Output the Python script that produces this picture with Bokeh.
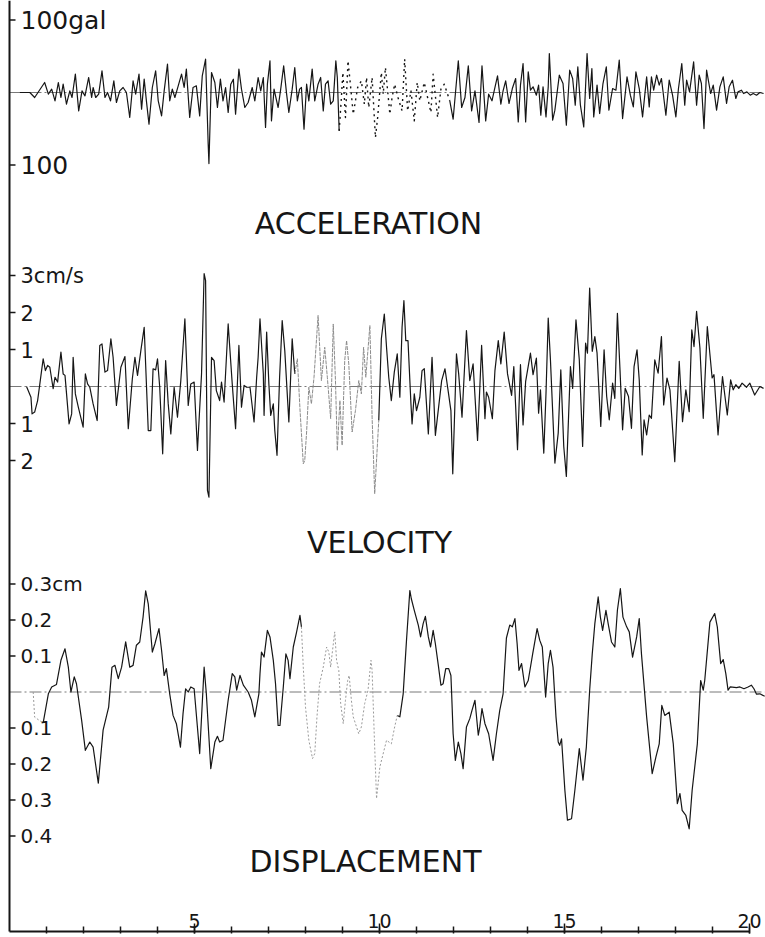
from bokeh.plotting import figure
from bokeh.models import Range1d
from bokeh.core.properties import value
from bokeh.embed import file_html
from bokeh.resources import INLINE

# ---- strong-motion record: time (s) vs. acceleration (gal) ----
acc_t = [0.28, 0.55, 0.68, 0.86, 0.95, 1.05, 1.14, 1.23, 1.32, 1.39, 1.45,
         1.54, 1.63, 1.69, 1.78, 1.87, 1.96, 2.04, 2.14, 2.22, 2.26,
         2.33, 2.41, 2.50, 2.58, 2.65, 2.73, 2.82, 2.89, 2.98, 3.07,
         3.16, 3.25, 3.34, 3.41, 3.50, 3.57, 3.64, 3.70, 3.77, 3.86,
         3.95, 4.02, 4.11, 4.18, 4.27, 4.33, 4.40, 4.47, 4.56, 4.65,
         4.72, 4.78, 4.87, 4.96, 5.05, 5.14, 5.21, 5.30, 5.37, 5.39,
         5.46, 5.55, 5.62, 5.70, 5.77, 5.84, 5.91, 5.98, 6.05, 6.11,
         6.20, 6.27, 6.36, 6.45, 6.56, 6.63,
         6.72, 6.79, 6.86, 6.92, 6.97, 7.04, 7.08, 7.15, 7.22, 7.26,
         7.33, 7.41, 7.49, 7.55, 7.64, 7.71, 7.78, 7.84, 7.89, 7.96,
         8.03, 8.09, 8.18, 8.25, 8.34, 8.41, 8.48, 8.54, 8.61, 8.68,
         8.75, 8.82, 8.86, 8.91, 8.97, 9.01, 9.08, 9.15, 9.23, 9.29,
         9.41, 9.51, 9.59, 9.65, 9.71, 9.80, 9.89, 9.95, 10.05, 10.10,
         10.16, 10.28, 10.34, 10.41, 10.50, 10.61, 10.68, 10.76, 10.85, 10.94,
         11.02, 11.09, 11.21, 11.30, 11.39, 11.45, 11.57, 11.66, 11.75, 11.81,
         11.90, 11.99, 12.13, 12.22, 12.31, 12.40, 12.49, 12.58, 12.69, 12.77,
         12.87, 12.95, 13.04, 13.11, 13.19, 13.28, 13.34, 13.41,
         13.50, 13.59, 13.68, 13.75, 13.81, 13.88, 13.95, 14.02, 14.08, 14.15,
         14.24, 14.30, 14.36, 14.42, 14.50, 14.56, 14.59, 14.68, 14.74, 14.86,
         14.96, 15.05, 15.14, 15.22, 15.29, 15.36, 15.43, 15.52, 15.61, 15.68,
         15.74, 15.79, 15.88, 15.95, 16.04, 16.13, 16.20, 16.30, 16.39, 16.48,
         16.57, 16.69, 16.78, 16.86, 16.93, 17.02, 17.11, 17.22, 17.29, 17.35,
         17.41, 17.49, 17.56, 17.62, 17.74, 17.83, 17.92, 18.01, 18.08, 18.17,
         18.25, 18.30, 18.38, 18.49, 18.57, 18.64, 18.70, 18.77, 18.84, 18.95,
         19.02, 19.11, 19.20, 19.29, 19.38, 19.45, 19.54, 19.63, 19.69, 19.78,
         19.84, 19.93, 20.02, 20.10, 20.19, 20.28, 20.38]
acc_gal = [0.0, 0.0, -6.9, 6.9, 13.8, -2.3, 4.6, -11.5, 13.8, -6.9, 11.5,
           -16.1, 2.3, -6.9, 25.3, -25.3, 2.3, -4.6, 20.7, -6.9, 6.9,
           -6.9, -2.3, 29.9, -6.9, 0.0, -11.5, 16.1, -13.8, 2.3, 6.9,
           0.0, -34.5, 16.1, -2.3, 25.3, -23.0, 18.4, -11.5, -43.7, 6.9,
           29.9, -11.5, -32.2, 2.3, 39.1, -11.5, 4.6, -6.9, 9.2, 25.3,
           6.9, 32.2, -34.5, 6.9, 9.2, -32.2, 23.0, 46.0, -71.3, -98.0,
           27.6, 13.8, -20.7, 18.4, -11.5, 6.9, -27.6, 11.5, 18.4, -29.9,
           32.2, 4.6, -20.7, -13.8, 6.9, -11.5,
           20.7, 2.3, 20.7, -48.3, 11.5, 43.7, -39.1, 4.6, -11.5, -20.7,
           4.6, 36.8, -2.3, -27.6, 4.6, 34.5, -11.5, 4.6, 6.9, -50.6,
           11.5, -11.5, 32.2, -11.5, 11.5, 20.7, -25.3, 11.5, 16.1, -16.1,
           -11.5, 43.7, 20.7, -52.9, -6.9, 27.6, -34.5, 43.7, 2.3, -29.9,
           6.9, 16.1, -16.1, 20.7, -20.7, 20.7, -62.1, -34.5, 27.6, -2.3,
           34.5, -29.9, -6.9, 11.5, -6.9, -25.3, 46.0, -25.3, 2.3, -39.1,
           13.8, -11.5, 13.8, -6.9, -27.6, 25.3, -34.5, 4.6, 11.5, 2.3,
           -11.5, -36.8, 43.7, -20.7, -6.9, 36.8, -25.3, 2.3, -41.4, 36.8,
           -39.1, -2.3, -11.5, 4.6, 23.0, -16.1, 2.3, 16.1,
           -15.2, 5.5, 19.3, -40.5, 10.1, 40.0, -40.5, 28.5, 3.2, 7.8,
           -3.7, 10.1, -31.3, 7.8, -33.6, 7.8, 53.8, -38.2, -24.4, 23.9,
           12.4, -45.1, 30.8, 19.3, -17.5, 35.4, -17.5, -47.4, 53.8, -8.3,
           33.1, -33.6, 10.1, -29.0, 12.4, 35.4, -24.4, 5.5, 3.2, 44.6,
           -35.9, 21.6, -3.7, -19.8, 28.5, 5.5, -33.6, 21.6, -19.8, 21.6,
           3.2, 23.9, 10.1, 19.3, -31.3, 17.0, -3.7, -33.6, 5.5, 40.0,
           -17.5, 17.0, 0.9, 42.3, -17.5, 23.9, 12.4, -49.7, 30.8, -1.4,
           10.1, -24.4, 7.8, 21.6, -15.2, 7.8, 17.0, -8.3, 0.9, 3.2,
           -1.4, 0.9, -3.7, -1.4, -3.7, 0.0, -1.4]

# ---- velocity (cm/s) ----
vel_t = [0.46, 0.58, 0.61, 0.68, 0.76, 0.82, 0.91, 0.97, 1.03, 1.09,
         1.18, 1.23, 1.30, 1.39, 1.45, 1.50, 1.61, 1.68, 1.72, 1.78,
         1.86, 1.99, 2.05, 2.11, 2.17, 2.26, 2.37, 2.44, 2.50, 2.58,
         2.65, 2.74, 2.80, 2.89, 3.01, 3.12, 3.21, 3.32, 3.39, 3.46,
         3.55, 3.64, 3.75, 3.82, 3.88, 3.95, 4.00, 4.06, 4.14, 4.22,
         4.29, 4.36, 4.45, 4.54, 4.63, 4.74, 4.83, 4.90, 4.99, 5.08,
         5.19, 5.26, 5.30, 5.35, 5.39, 5.46, 5.53, 5.59, 5.68, 5.73,
         5.80, 5.91, 6.02, 6.11, 6.20, 6.27, 6.34, 6.41, 6.50,
         6.61, 6.68, 6.72, 6.77, 6.86, 6.88, 6.95, 7.01, 7.06, 7.13,
         7.17, 7.23, 7.30, 7.37, 7.44, 7.55, 7.64, 7.71, 7.78, 7.85,
         7.94, 7.98, 8.03, 8.09, 8.16, 8.23, 8.34, 8.43, 8.52, 8.59,
         8.68, 8.75, 8.81, 8.86, 8.93, 8.99, 9.06, 9.11, 9.17, 9.26,
         9.35, 9.44, 9.51, 9.57, 9.63, 9.74, 9.80, 9.87, 9.98, 10.05,
         10.13, 10.19, 10.25, 10.32, 10.40, 10.48, 10.55, 10.61, 10.66, 10.71,
         10.77, 10.85, 10.88, 10.94, 11.00, 11.09, 11.15, 11.21, 11.32, 11.42,
         11.51, 11.68, 11.77, 11.86, 11.93, 11.98, 12.08, 12.14, 12.23, 12.35,
         12.44, 12.53, 12.65, 12.76, 12.85, 12.89, 12.95, 13.05, 13.12, 13.21,
         13.28, 13.37, 13.46, 13.57,
         13.63, 13.68, 13.73, 13.81, 13.88, 13.95, 14.08, 14.15, 14.24, 14.30,
         14.35, 14.44, 14.50, 14.56, 14.62, 14.74, 14.83, 14.90, 14.98, 15.05,
         15.11, 15.16, 15.22, 15.31, 15.40, 15.49, 15.57, 15.62, 15.68, 15.75,
         15.82, 15.88, 15.98, 16.07, 16.14, 16.21, 16.30, 16.36, 16.43, 16.50,
         16.57, 16.64, 16.73, 16.81, 16.88, 16.96, 17.02, 17.10, 17.15, 17.22,
         17.29, 17.35, 17.44, 17.53, 17.62, 17.68, 17.77, 17.85, 17.98, 18.10,
         18.19, 18.28, 18.37, 18.44, 18.50, 18.57, 18.66, 18.75, 18.86, 18.99,
         19.04, 19.15, 19.27, 19.40, 19.49, 19.56, 19.63, 19.71, 19.80, 19.92,
         20.01, 20.14, 20.28, 20.38]
vel_cms = [0.0, -0.29, -0.74, -0.69, -0.38, 0.07, 0.75, 0.43, 0.57, 0.52,
           -0.06, 0.25, 0.12, 0.93, 0.34, 0.30, -1.01, -0.74, 0.79, -0.20,
           -0.56, -1.10, 0.34, 0.07, -0.02, -0.47, -0.92, 1.11, 1.15, 0.39,
           0.43, 1.29, 0.79, -0.51, 0.52, 0.81, -1.14, 0.21, 0.79, 0.30,
           0.97, 1.60, -1.19, -1.19, 0.48, 0.45, 0.75, -0.02, -1.82, 0.70,
           -0.47, -1.28, -0.02, -0.83, 0.16, 1.83, -0.51, 0.07, 0.12, -1.73,
           0.34, 3.05, 2.86, -2.81, -2.99, 0.79, 0.70, -0.11, -0.38, 0.12,
           -0.42, 1.69, 0.07, -1.14, 1.11, -0.56, 0.03, -0.02, -0.02,
           -0.96, 0.25, 0.79, 1.83, 0.34, -0.78, 1.47, 0.07, -0.78, -0.47,
           -1.19, -1.86, 0.25, 1.78, 0.97, -0.96, 1.29, 0.34, 0.75, -0.60,
           -2.09, -2.00, -1.23, -0.02, -0.47, 0.25, 1.92, 0.16, 1.06, 0.25,
           -0.87, 1.69, 0.16, -1.73, -0.38, -1.59, 0.70, 1.24, 0.61, -1.23,
           -0.65, 0.16, -0.20, 1.06, 0.25, 1.65, -0.83, -2.90, -0.92, 1.29,
           1.96, 1.06, 0.25, -0.38, 0.39, 0.88, -0.29, 1.60, 2.32, 1.24,
           1.24, -0.47, -1.01, -0.20, -0.65, -0.29, 0.43, 0.48, -1.28, 0.79,
           -1.32, 0.16, 0.48, -0.15, -0.65, -2.36, 0.88, 0.34, -0.83, 1.51,
           0.16, 0.61, -1.46, 1.11, -0.87, -0.15, -0.29, -0.87, 0.43, 1.24,
           0.61, 1.47, 0.34, -0.24,
           0.54, -0.54, -1.71, 0.59, -1.04, 0.14, 0.90, 0.32, 0.77, -0.72,
           -0.09, -1.80, -0.18, 1.85, 0.72, -2.07, -1.26, 0.45, -1.62, -2.43,
           -0.81, 0.54, -0.05, 1.80, 0.72, -1.62, 1.17, 0.90, 2.66, 0.95,
           1.35, 0.90, -1.08, 0.99, -0.27, -0.90, 0.09, -0.32, 1.98, 0.45,
           -1.17, -0.05, -0.27, -1.13, 0.54, 0.99, 0.18, -1.85, -0.90, -1.31,
           -0.77, -0.86, 0.72, 0.36, 1.35, -0.50, 0.23, -0.09, -2.03, 0.68,
           -0.95, -0.09, -0.68, 1.53, 1.08, 2.03, 1.04, -0.86, 1.62, 0.23,
           0.32, -1.31, 0.27, -0.77, 0.18, -0.09, 0.05, -0.05, 0.09, -0.02,
           0.09, -0.23, 0.0, -0.05]

# ---- displacement (cm) ----
disp_t = [0.64, 0.68, 0.91, 1.05, 1.14, 1.27, 1.39, 1.50, 1.59, 1.66,
          1.75, 1.81, 1.95, 2.05, 2.17, 2.26, 2.40, 2.53, 2.68, 2.77,
          2.85, 2.94, 3.03, 3.14, 3.25, 3.34, 3.43, 3.52, 3.61, 3.68,
          3.75, 3.86, 3.93, 4.04, 4.11, 4.18, 4.24, 4.33, 4.42, 4.51,
          4.62, 4.69, 4.76, 4.83, 4.90, 4.99, 5.14, 5.26, 5.32, 5.44,
          5.55, 5.62, 5.68, 5.77, 5.91, 6.02, 6.09, 6.14, 6.23, 6.32,
          6.45, 6.54, 6.63, 6.74, 6.77, 6.81, 6.88, 6.97, 7.04, 7.13,
          7.19, 7.26, 7.31, 7.40, 7.47, 7.53, 7.58, 7.67, 7.76, 7.85,
          7.89, 7.94, 8.00, 8.09, 8.19, 8.25, 8.31, 8.38, 8.48, 8.57,
          8.63, 8.68, 8.72, 8.79, 8.84, 8.90, 8.95, 9.02, 9.08, 9.14,
          9.18, 9.24, 9.29, 9.44, 9.51, 9.60, 9.69, 9.77, 9.80, 9.86,
          9.92, 10.01, 10.19, 10.32, 10.41, 10.48, 10.55, 10.64, 10.73, 10.82,
          10.86, 10.94, 11.05, 11.11, 11.18, 11.24, 11.32, 11.38, 11.45, 11.51,
          11.59, 11.66, 11.72, 11.79, 11.87, 11.93, 11.95, 11.99, 12.05, 12.13,
          12.20, 12.26, 12.35, 12.44, 12.50, 12.58, 12.67, 12.71, 12.77, 12.85,
          12.95, 13.07, 13.16, 13.25, 13.34, 13.43, 13.52, 13.59, 13.66, 13.72,
          13.77, 13.84, 13.93, 14.02, 14.14, 14.26, 14.33, 14.40, 14.49, 14.56,
          14.62, 14.69, 14.77, 14.83, 14.87, 14.92, 15.01, 15.08, 15.19, 15.28,
          15.40, 15.50, 15.59, 15.68, 15.75, 15.82, 15.91, 15.97, 16.03, 16.12,
          16.18, 16.27, 16.36, 16.43, 16.51, 16.58, 16.68, 16.75, 16.84, 16.95,
          17.02, 17.08, 17.22, 17.37, 17.47, 17.56, 17.63, 17.71, 17.83, 17.94,
          18.05, 18.12, 18.18, 18.28, 18.37, 18.45, 18.59, 18.68, 18.75, 18.79,
          18.93, 19.06, 19.13, 19.22, 19.29, 19.36, 19.42, 19.48, 19.65, 19.74,
          19.85, 19.96, 20.05, 20.12, 20.19, 20.28, 20.41]
disp_cm = [0.0, -0.07, -0.086, -0.005, 0.014, 0.021, 0.088, 0.12, 0.069, 0.0,
           0.042, 0.023, -0.079, -0.162, -0.139, -0.153, -0.253, -0.106, -0.042, 0.069,
           0.074, 0.037, 0.069, 0.139, 0.069, 0.074, 0.130, 0.139, 0.208, 0.281,
           0.245, 0.111, 0.134, 0.176, 0.116, 0.046, 0.065, -0.005, -0.065, -0.088,
           -0.153, -0.06, 0.009, 0.0, 0.014, 0.009, -0.171, 0.069, -0.005, -0.213,
           -0.139, -0.123, -0.139, -0.134, -0.023, 0.051, 0.042, 0.005, 0.046, 0.019,
           0.0, -0.023, -0.069, -0.005, 0.051, 0.111, 0.097, 0.171, 0.153, 0.088,
           0.023, -0.093, -0.093, 0.014, 0.106, 0.088, 0.037, 0.125, 0.167, 0.213,
           0.181, 0.069, -0.042, -0.134, -0.185, -0.171, -0.069, 0.023, 0.069, 0.125,
           0.111, 0.069, 0.106, 0.167, 0.088, 0.060, -0.032, -0.088, -0.023, 0.032,
           0.046, -0.023, -0.069, -0.116, -0.097, -0.032, 0.005, 0.088, 0.060, -0.125,
           -0.296, -0.208, -0.134, -0.144, -0.097, -0.065, -0.069, -0.005, 0.144, 0.282,
           0.259, 0.227, 0.185, 0.153, 0.190, 0.210, 0.153, 0.125, 0.171, 0.134,
           0.074, 0.019, 0.023, 0.065, 0.065, 0.046, -0.005, -0.116, -0.190, -0.139,
           -0.171, -0.213, -0.097, -0.074, -0.051, -0.023, -0.120, -0.097, -0.046, -0.088,
           -0.116, -0.190, -0.116, -0.051, -0.005, 0.150, 0.186, 0.181, 0.204, 0.134,
           0.060, 0.079, 0.014, 0.032, 0.106, 0.176, 0.144, 0.125, -0.014, 0.079,
           0.116, 0.069, -0.069, -0.139, -0.148, -0.130, -0.273, -0.356, -0.352, -0.273,
           -0.157, -0.245, -0.153, 0.005, 0.106, 0.190, 0.264, 0.208, 0.171, 0.227,
           0.190, 0.139, 0.125, 0.227, 0.287, 0.208, 0.181, 0.167, 0.097, 0.153,
           0.204, 0.106, -0.069, -0.227, -0.181, -0.144, -0.037, -0.065, -0.056, -0.144,
           -0.310, -0.282, -0.329, -0.343, -0.380, -0.273, -0.144, 0.032, 0.005, 0.032,
           0.194, 0.218, 0.181, 0.079, 0.090, 0.051, 0.005, 0.014, 0.012, 0.014,
           0.009, 0.014, 0.019, 0.009, -0.006, -0.005, -0.012]

# time windows where the pen trace is faint / broken
acc_faint = [(8.9, 11.9)]
vel_faint = [(7.7, 10.0)]
disp_faint = [(0.6, 0.95), (7.9, 10.5)]

# axis ticks and their labels
time_major = [5, 10, 15, 20]
time_minor = list(range(1, 21))
acc_ticks = [100, -100]
acc_labels = ["100gal", "100"]
vel_ticks = [3, 2, 1, -1, -2]
vel_labels = ["3cm/s", "2", "1", "1", "2"]
disp_ticks = [0.3, 0.2, 0.1, -0.1, -0.2, -0.3, -0.4]
disp_labels = ["0.3cm", "0.2", "0.1", "0.1", "0.2", "0.3", "0.4"]
titles = ["ACCELERATION", "VELOCITY", "DISPLACEMENT"]

# ---- page geometry (pixels) ----
W, H = 765, 937
T0_PX, PX_PER_S = 9, 37.0            # time origin and time scale
ACC_ZERO, ACC_PX = 92, 0.725         # px per gal
VEL_ZERO, VEL_PX = 386, 37.0         # px per cm/s
DISP_ZERO, DISP_PX = 691.5, 360.0    # px per cm
FLOOR = 931                          # time axis line


def panel_range(zero_px, px_per_unit):
    return Range1d((zero_px - H) / px_per_unit, zero_px / px_per_unit)


p = figure(width=W, height=H, output_backend="svg", toolbar_location=None,
           x_range=Range1d(-T0_PX / PX_PER_S, (W - T0_PX) / PX_PER_S),
           y_range=panel_range(ACC_ZERO, ACC_PX),
           x_axis_location=None, y_axis_location=None,
           min_border=0, outline_line_color=None,
           background_fill_color="white", border_fill_color="white")
p.grid.visible = False
p.extra_x_ranges = {"px": Range1d(0, W)}
p.extra_y_ranges = {"py": Range1d(H, 0),
                    "vel": panel_range(VEL_ZERO, VEL_PX),
                    "disp": panel_range(DISP_ZERO, DISP_PX)}

INK = "#161616"
FONT = value("DejaVu Sans")


def split_runs(ts, vs, windows):
    """Group consecutive segments into solid and faint runs."""
    runs = {False: ([], []), True: ([], [])}

    def faint(i):
        m = 0.5 * (ts[i] + ts[i + 1])
        return any(a <= m <= b for a, b in windows)

    i, n = 0, len(ts)
    while i < n - 1:
        f = faint(i)
        j = i
        while j < n - 1 and faint(j) == f:
            j += 1
        runs[f][0].append(ts[i:j + 1])
        runs[f][1].append(vs[i:j + 1])
        i = j
    return runs


def trace(ts, vs, windows, rng, faint_style):
    runs = split_runs(ts, vs, windows)
    # zero reference line
    p.segment(x0=[0], x1=[ts[-1]], y0=[0], y1=[0], y_range_name=rng,
              line_color="#555555", line_width=0.8, line_dash="12 3 2 3")
    if runs[False][0]:
        p.multi_line(xs=runs[False][0], ys=runs[False][1], y_range_name=rng,
                     line_color=INK, line_width=1.2, line_join="round")
    if runs[True][0]:
        p.multi_line(xs=runs[True][0], ys=runs[True][1], y_range_name=rng,
                     line_join="round", **faint_style)


trace(acc_t, acc_gal, acc_faint, "default",
      dict(line_color=INK, line_width=1.4, line_dash="2 4"))
trace(vel_t, vel_cms, vel_faint, "vel",
      dict(line_color="#8c8c8c", line_width=1.0, line_dash="4 1"))
trace(disp_t, disp_cm, disp_faint, "disp",
      dict(line_color="#9a9a9a", line_width=1.0, line_dash="2 2"))

# ---- frame: left and bottom axis lines ----
p.segment(x0=[0], x1=[0], y0=[0], y1=[FLOOR], y_range_name="py",
          line_color=INK, line_width=2)
p.segment(x0=[0], x1=[time_major[-1]], y0=[FLOOR], y1=[FLOOR], y_range_name="py",
          line_color=INK, line_width=2)
p.segment(x0=time_minor, x1=time_minor, y0=[FLOOR + 2] * len(time_minor),
          y1=[FLOOR - 5] * len(time_minor), y_range_name="py",
          line_color=INK, line_width=1.5)
p.segment(x0=time_major, x1=time_major, y0=[FLOOR + 2] * len(time_major),
          y1=[FLOOR - 8] * len(time_major), y_range_name="py",
          line_color=INK, line_width=1.5)
p.text(x=time_major, y=[FLOOR - 11] * len(time_major), text=[str(v) for v in time_major],
       y_range_name="py", text_align="center", text_baseline="alphabetic",
       text_font=FONT, text_font_size="19px", text_color=INK)

# ---- left-axis ticks and labels for each trace ----
TICK = 6 / PX_PER_S
LABEL_X = 11 / PX_PER_S
for ticks, labels, rng, size in [(acc_ticks, acc_labels, "default", "25px"),
                                 (vel_ticks, vel_labels, "vel", "21px"),
                                 (disp_ticks, disp_labels, "disp", "20px")]:
    p.segment(x0=[0] * len(ticks), x1=[TICK] * len(ticks), y0=ticks, y1=ticks,
              y_range_name=rng, line_color=INK, line_width=1.5)
    p.text(x=[LABEL_X] * len(ticks), y=ticks, text=labels, y_range_name=rng,
           text_align="left", text_baseline="middle", text_font=FONT,
           text_font_size=size, text_color=INK)

# ---- trace titles ----
p.text(x=[368, 379, 365], y=[223, 542, 861], text=titles,
       x_range_name="px", y_range_name="py", text_align="center",
       text_baseline="middle", text_font=FONT, text_font_size="30px",
       text_color=INK)

open("out.html", "w").write(file_html(p, INLINE))
